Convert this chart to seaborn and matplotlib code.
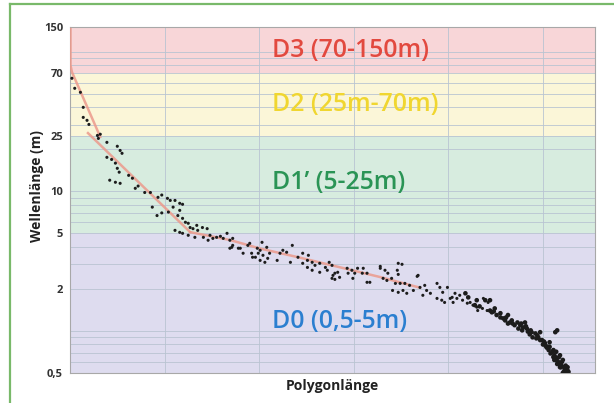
import matplotlib
matplotlib.use('Agg')
import matplotlib.pyplot as plt
import seaborn as sns
import numpy as np
from matplotlib.ticker import FixedLocator, LogLocator, NullFormatter, FixedFormatter
from matplotlib.lines import Line2D

# ---------------- data ----------------
steep_x = [0.02, 0.05, 0.11, 0.14, 0.14, 0.18, 0.20, 0.29, 0.30, 0.32, 0.39, 0.50, 0.53, 0.55, 0.39, 0.44,
           0.48, 0.50, 0.52, 0.62, 0.66, 0.42, 0.48, 0.53, 0.69, 0.72, 0.79, 0.85, 0.93, 0.97, 1.03, 1.06,
           1.11, 0.87, 0.92, 0.97, 1.04, 1.09, 1.16, 1.19, 1.16, 1.14, 1.19, 1.22, 1.25, 1.11, 1.16, 1.19]
steep_y = [64.4, 54.6, 51.1, 39.9, 33.8, 32.2, 30.1, 25.1, 23.9, 25.6, 22.4, 21.0, 19.6, 18.7, 17.5, 16.9,
           15.9, 14.6, 13.7, 13.0, 12.4, 12.0, 11.6, 11.4, 10.5, 10.9, 9.8, 9.8, 9.05, 9.4, 8.9, 8.6,
           8.6, 7.7, 6.7, 7.0, 7.1, 7.7, 8.2, 8.07, 7.3, 6.7, 6.4, 6.0, 5.9, 5.25, 5.08, 5.0]

mid_x = [1.27, 1.30, 1.34, 1.40, 1.45, 1.25, 1.32, 1.41, 1.48, 1.51, 1.46, 1.55, 1.62, 1.66, 1.69, 1.72,
         1.71, 1.80, 1.83, 1.90, 1.92, 1.93, 1.98, 1.35, 1.59, 1.69, 1.78, 1.72, 1.88, 1.96, 1.99, 2.03,
         2.01, 2.04, 2.08, 2.01, 2.06, 2.11, 2.09, 2.19, 2.22, 2.25, 2.29, 2.35, 2.33, 2.41, 2.46, 2.52,
         2.51, 2.46, 2.56, 2.59, 2.64, 2.70, 2.72, 2.77, 2.80, 2.77, 2.83, 2.64, 2.56, 2.51, 2.74, 2.78,
         2.85, 2.80, 2.93, 2.94, 2.98, 3.01, 2.99, 3.04, 3.10, 3.09, 3.14, 3.14, 3.17, 3.28, 3.33, 3.36,
         3.31, 3.35, 3.40, 3.46, 3.51, 3.47, 3.44, 3.49, 3.54, 3.59, 3.41, 3.47, 3.52, 3.56, 3.63, 3.68,
         3.70, 3.75, 3.77, 3.81, 3.73, 3.88, 3.91, 3.94, 3.99, 3.88, 3.93, 3.96, 4.02, 4.05, 4.09, 4.07,
         4.12, 4.15, 4.20, 4.23, 4.26, 4.30, 4.31, 4.36, 4.41, 4.37, 4.42, 3.47, 3.28, 3.67, 4.04]
mid_y = [5.5, 5.4, 5.7, 5.5, 5.4, 4.84, 4.68, 4.68, 4.84, 4.60, 4.46, 4.68, 4.60, 5.0, 4.46, 4.60,
         3.97, 3.91, 3.60, 4.24, 3.60, 3.37, 3.91, 5.25, 4.76, 3.91, 3.91, 4.10, 4.10, 3.37, 3.60, 4.31,
         3.78, 3.48, 3.97, 3.20, 3.10, 3.60, 3.31, 3.20, 3.60, 3.78, 3.66, 4.10, 3.10, 3.37, 3.60, 3.48,
         3.20, 3.05, 3.10, 2.95, 3.05, 2.85, 2.72, 2.95, 2.59, 2.38, 2.63, 2.63, 2.72, 2.85, 3.10, 2.50,
         2.42, 2.34, 2.81, 2.59, 2.72, 2.59, 2.38, 2.81, 2.81, 2.59, 2.59, 2.23, 2.23, 2.81, 2.72, 2.59,
         2.38, 2.30, 2.38, 2.72, 3.00, 2.54, 2.19, 2.19, 2.19, 2.12, 1.95, 1.89, 1.95, 1.86, 1.95, 2.50,
         2.05, 2.12, 1.95, 1.86, 1.80, 2.19, 2.05, 1.89, 2.05, 1.71, 1.66, 1.60, 1.71, 1.60, 1.71, 1.86,
         1.80, 1.66, 1.58, 1.60, 1.53, 1.48, 1.40, 1.45, 1.40, 1.71, 1.60, 3.05, 2.90, 2.46, 1.74]

tail_x = [4.18, 4.21, 4.30, 4.33, 4.39, 4.44, 4.46, 4.49, 4.51, 4.55, 4.58, 4.63, 4.65, 4.68, 4.73, 4.76,
          4.79, 4.83, 4.81, 4.88, 4.92, 4.95, 4.99, 5.02, 5.05, 5.10, 5.13, 5.16, 5.20, 5.23, 5.25, 5.15,
          5.07, 5.18, 5.21, 5.26, 4.97, 4.28, 4.44, 4.63, 4.89, 5.04, 5.11, 5.18, 5.13, 4.60, 4.70, 4.74,
          4.78, 4.84, 4.86, 4.93, 4.97, 5.00, 5.03, 5.06, 5.08, 5.12, 5.14, 5.17, 5.19, 5.22, 5.21, 5.27,
          5.15, 5.11, 5.01, 4.94, 4.87, 4.82, 4.77, 4.67, 4.55, 4.61, 4.48, 5.07, 5.14, 5.17, 5.20, 5.24,
          5.26, 5.18, 5.15, 5.12, 5.23]
tail_y = [1.86, 1.74, 1.66, 1.50, 1.66, 1.66, 1.36, 1.45, 1.30, 1.25, 1.23, 1.30, 1.15, 1.13, 1.15, 1.10,
          1.06, 1.04, 1.15, 0.98, 0.96, 0.90, 0.86, 0.82, 0.77, 0.71, 0.65, 0.60, 0.56, 0.53, 0.50, 1.01,
          0.83, 0.67, 0.62, 0.55, 0.98, 1.53, 1.40, 1.13, 0.90, 0.76, 0.65, 0.59, 0.98, 1.19, 1.10, 1.04,
          1.01, 0.99, 0.945, 0.885, 0.86, 0.80, 0.78, 0.73, 0.69, 0.67, 0.63, 0.58, 0.55, 0.51, 0.50, 0.51,
          0.61, 0.73, 0.84, 0.93, 1.01, 1.08, 1.13, 1.19, 1.34, 1.25, 1.38, 0.77, 0.71, 0.65, 0.60, 0.565,
          0.52, 0.55, 0.58, 0.62, 0.55]

trend1_x = [0.005, 0.005, 0.02, 0.32]
trend1_y = [145, 80, 71.5, 24.5]
trend2_x = [0.19, 1.27]
trend2_y = [26.1, 5.1]
trend3_x = [1.27, 1.69, 2.01, 2.43, 2.85, 3.28, 3.70]
trend3_y = [5.1, 4.48, 3.89, 3.35, 2.86, 2.43, 2.04]

band_lo = [0.5, 5, 25, 70]
band_hi = [5, 25, 70, 150]
band_labels = ["D0 (0,5-5m)", "D1’ (5-25m)", "D2 (25m-70m)", "D3 (70-150m)"]
band_label_y = [1.17, 11.6, 41.5, 102.6]
band_fill = ['#dedcef', '#d7ecdf', '#fbf6d8', '#f8d6d8']
band_text_col = ['#2b7fd0', '#2a9455', '#f0d630', '#e2493f']

ytick_vals = [0.5, 2, 5, 10, 25, 70, 150]
ytick_labels = ['0,5', '2', '5', '10', '25', '70', '150']
xgrid_vals = [0, 1, 2, 3, 4, 5]

# ---------------- figure ----------------
plt.rcParams['font.family'] = ['Open Sans', 'DejaVu Sans']
fig = plt.figure(figsize=(6.14, 4.03), dpi=100)
ax = fig.add_axes([70/614, 30/403, 525/614, 346/403])
ax.set_yscale('log')

for lo, hi, c in zip(band_lo, band_hi, band_fill):
    ax.axhspan(lo, hi, color=c, lw=0, zorder=0.2)

pt_col = '#1c1c1c'
sns.scatterplot(x=steep_x, y=steep_y, ax=ax, s=5, color=pt_col, edgecolor='none', linewidth=0, zorder=4)
sns.scatterplot(x=mid_x, y=mid_y, ax=ax, s=5, color=pt_col, edgecolor='none', linewidth=0, zorder=4)
sns.scatterplot(x=tail_x, y=tail_y, ax=ax, s=11, color=pt_col, edgecolor='none', linewidth=0, zorder=4)

line_col = '#ec9a8c'
for tx, ty in [(trend1_x, trend1_y), (trend2_x, trend2_y), (trend3_x, trend3_y)]:
    sns.lineplot(x=tx, y=ty, ax=ax, sort=False, estimator=None, color=line_col, lw=1.8, alpha=0.85, zorder=3)

ax.set_ylim(0.5, 150)
ax.set_xlim(0, 5.55)

ax.yaxis.set_major_locator(FixedLocator(ytick_vals))
ax.yaxis.set_major_formatter(FixedFormatter(ytick_labels))
ax.yaxis.set_minor_locator(LogLocator(base=10, subs=np.arange(1, 10)))
ax.yaxis.set_minor_formatter(NullFormatter())
ax.set_xticks(xgrid_vals)
ax.set_xticklabels([])
ax.set_axisbelow(True)
ax.grid(which='both', axis='y', color='#b9c4d2', lw=0.6)
ax.grid(which='major', axis='x', color='#b9c4d2', lw=0.6)
ax.tick_params(axis='both', which='both', length=0)
ax.tick_params(axis='y', pad=5, labelsize=8, labelcolor='#333333')
for lbl in ax.get_yticklabels():
    lbl.set_fontweight('bold')

for sp in ax.spines.values():
    sp.set_color('#a8a8a8')
    sp.set_linewidth(0.8)

for txt, yv, col in zip(band_labels, band_label_y, band_text_col):
    ax.text(2.14, yv, txt, color=col, fontsize=17.8, fontweight='semibold', ha='left', va='center', zorder=5)

ax.set_ylabel('Wellenlänge (m)', fontweight='bold', fontsize=10, color='#222222')
ax.yaxis.set_label_coords(-0.05, 0.54)
ax.set_xlabel('Polygonlänge', fontweight='bold', fontsize=10, color='#222222')
ax.xaxis.set_label_coords(0.5, -0.017)

green = '#79b96a'
fig.add_artist(Line2D([10/614, 10/614], [0, 1 - 4/403], transform=fig.transFigure, color=green, lw=1.6))
fig.add_artist(Line2D([10/614, 1], [1 - 4/403, 1 - 4/403], transform=fig.transFigure, color=green, lw=1.6))

fig.savefig('out.png', dpi=100, facecolor='white')
